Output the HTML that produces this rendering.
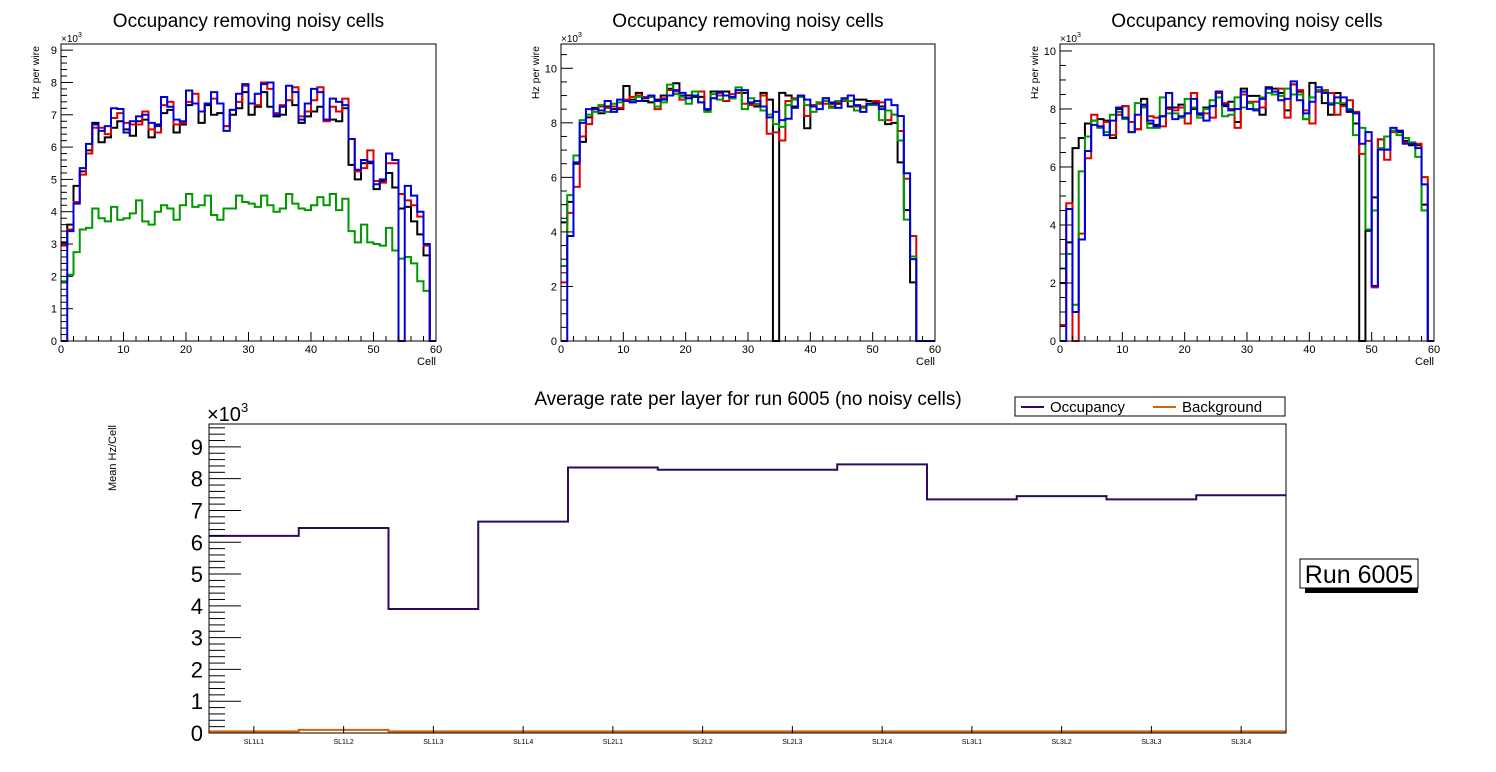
<!DOCTYPE html>
<html><head><meta charset="utf-8"><style>
html,body{margin:0;padding:0;background:#fff;}
svg{display:block;font-family:"Liberation Sans",sans-serif;}
</style></head><body>
<svg id="c" width="1496" height="772" viewBox="0 0 1496 772" xmlns="http://www.w3.org/2000/svg"></svg>
<script>
// ---- panel data (Hz per wire, x10^3) ----
const p1Black=[3.05,3.6,4.8,5.25,5.9,6.75,6.15,6.3,6.6,6.8,6.55,6.35,6.8,6.85,6.3,6.7,7.05,7.15,6.45,6.7,7.3,7.35,6.75,7.3,7.0,7.05,6.65,7.0,7.2,7.7,7.0,7.25,7.7,7.25,6.95,7.0,7.45,7.3,6.75,6.95,7.1,7.25,6.85,6.85,6.8,7.2,5.45,5.0,5.5,5.5,4.7,4.95,5.2,4.75,4.1,4.15,3.7,3.3,2.65,0];
const p1Red=[2.95,3.45,4.3,5.15,5.8,6.6,6.6,6.4,6.9,7.05,6.75,6.7,6.7,7.1,6.55,6.45,7.3,7.4,6.7,6.75,7.4,7.65,7.1,7.35,7.5,7.35,6.65,7.15,7.4,7.9,7.35,7.3,8.0,7.8,7.05,7.3,7.45,7.85,6.95,7.1,7.45,7.85,6.8,7.25,7.1,7.5,6.25,5.25,5.35,5.9,4.95,4.9,5.5,5.5,4.55,4.35,4.2,3.85,2.95,0];
const p1Green=[1.85,2.05,2.75,3.45,3.5,4.1,3.8,3.7,4.15,3.75,3.8,3.95,4.35,3.7,3.6,4.0,4.2,4.1,3.75,4.2,4.55,4.15,4.2,4.5,3.9,3.75,4.1,4.1,4.5,4.3,4.25,4.15,4.5,4.2,4.0,4.1,4.55,4.25,4.1,4.05,4.2,4.45,4.2,4.55,4.05,4.4,3.4,3.05,3.6,3.05,3.0,2.95,3.5,2.8,2.55,2.6,2.4,1.85,1.55,0];
const p1Blue=[0,3.4,4.25,5.35,6.1,6.7,6.5,6.65,7.2,7.18,6.45,6.8,6.95,7.0,6.75,6.65,7.55,7.25,6.85,6.8,7.75,7.35,7.1,7.35,7.7,7.35,6.5,7.15,7.65,7.95,7.35,7.65,7.95,8.0,7.0,7.25,7.9,7.7,6.85,7.35,7.8,7.7,6.85,7.5,7.4,7.3,6.25,5.3,5.6,5.55,4.85,5.0,5.8,5.6,0,4.8,4.5,4.0,3.0,0];
const p2Black=[4.35,5.1,6.5,7.3,8.2,8.55,8.35,8.6,8.5,8.5,9.35,8.85,9.1,8.8,8.75,8.85,9.0,9.25,9.45,9.0,9.0,8.95,8.95,8.45,9.15,9.15,9.15,8.9,9.1,9.1,8.7,8.6,9.1,8.85,0,9.1,9.0,8.6,9.0,7.8,8.65,8.75,8.9,8.7,8.7,8.85,8.6,8.85,8.85,8.8,8.75,8.6,7.95,8.0,6.55,4.8,2.15,0,0,0];
const p2Red=[2.15,4.7,5.65,7.5,7.95,8.5,8.6,8.55,8.6,8.55,8.85,8.95,9.0,8.95,8.95,8.5,8.9,9.2,9.15,8.85,8.9,9.15,9.15,8.5,8.9,9.0,8.8,9.05,9.1,8.7,8.65,8.65,9.0,7.6,7.65,7.35,8.8,8.9,8.95,8.25,8.65,8.7,8.7,8.6,8.75,8.8,8.8,8.6,8.6,8.7,8.8,8.75,8.1,8.3,7.7,5.95,3.85,0,0,0];
const p2Green=[2.75,5.35,6.8,8.1,8.3,8.4,8.65,8.4,8.7,8.75,8.8,8.8,8.95,8.9,8.95,8.6,8.75,9.4,9.05,8.95,8.7,9.15,8.75,8.4,9.05,8.85,9.0,8.9,9.3,8.5,8.9,8.7,8.45,8.3,7.95,7.85,8.65,8.85,8.95,8.65,8.4,8.75,8.8,8.55,8.8,8.85,8.8,8.45,8.55,8.65,8.65,8.1,8.45,8.3,7.35,4.45,3.1,0,0,0];
const p2Blue=[0,3.85,6.55,8.0,8.5,8.5,8.45,8.8,8.4,8.85,8.8,8.75,8.8,8.9,9.0,8.8,8.85,9.0,9.2,9.1,8.9,9.0,8.75,8.5,8.9,9.1,9.0,8.95,9.2,9.2,8.75,8.8,8.6,8.2,8.4,8.1,8.15,8.55,9.0,8.85,8.6,8.5,8.9,8.75,8.55,8.9,9.0,8.65,8.4,8.7,8.7,8.5,8.85,8.65,8.25,6.15,3.0,0,0,0];
const p3Black=[2.0,3.4,6.65,7.0,7.5,7.6,7.65,7.6,7.0,8.0,8.1,7.55,7.3,8.35,7.5,7.45,7.75,8.05,8.05,8.15,7.85,8.0,7.8,8.05,8.1,8.6,8.1,8.25,7.55,8.7,8.45,8.45,7.8,8.75,8.7,8.55,7.95,8.85,8.6,7.65,8.9,8.6,8.2,7.8,8.55,8.15,7.9,7.5,0,3.8,4.95,6.95,6.6,7.25,7.2,6.9,6.75,6.75,4.7,0];
const p3Red=[0.55,4.75,0,3.7,6.3,7.8,7.4,7.55,7.1,7.8,8.1,7.55,7.3,8.1,7.75,7.7,7.4,8.0,7.95,8.05,7.5,8.55,7.85,7.85,7.7,8.55,8.2,8.0,7.35,8.5,8.25,8.25,8.05,8.55,8.5,8.7,7.7,8.85,8.65,7.95,7.5,8.6,8.65,8.55,7.8,8.1,8.3,7.9,6.45,6.9,1.85,6.95,6.25,7.2,7.25,6.85,6.85,6.8,5.65,0];
const p3Green=[2.5,3.0,1.25,5.85,7.05,7.6,7.35,7.2,7.8,7.9,7.65,7.2,8.2,8.05,7.35,7.35,8.4,7.85,7.85,7.7,8.35,8.05,7.7,8.0,8.3,8.4,7.75,7.8,8.4,8.05,8.2,8.0,8.4,8.55,8.5,8.45,8.7,8.5,8.5,7.65,8.4,8.65,8.6,8.2,8.2,8.2,8.0,7.1,7.35,3.85,4.5,6.65,7.05,7.25,7.1,7.0,6.85,6.35,4.5,0];
const p3Blue=[0,4.55,1.0,3.5,6.55,7.45,7.4,7.1,7.6,8.05,7.7,7.2,7.8,8.15,7.6,7.4,7.75,8.55,7.65,7.75,7.85,8.35,7.85,7.6,8.1,8.6,8.15,7.95,8.0,8.6,8.0,7.95,8.35,8.7,8.6,8.3,8.35,8.95,8.3,7.85,8.25,8.75,8.55,8.15,8.4,8.4,7.95,7.85,6.8,7.2,1.9,6.6,6.6,7.35,7.25,6.8,6.8,6.65,5.4,0];
const xTicks=[0,10,20,30,40,50,60];
const p1YTicks=[0,1,2,3,4,5,6,7,8,9];
const p2YTicks=[0,2,4,6,8,10];
const p3YTicks=[0,2,4,6,8,10];
// ---- summary data ----
const layers=["SL1L1","SL1L2","SL1L3","SL1L4","SL2L1","SL2L2","SL2L3","SL2L4","SL3L1","SL3L2","SL3L3","SL3L4"];
const occupancy=[6.2,6.45,3.9,6.65,8.35,8.28,8.28,8.45,7.35,7.45,7.35,7.48];
const background=[0.05,0.1,0.05,0.05,0.05,0.05,0.05,0.05,0.05,0.05,0.05,0.05];
const sumYTicks=[0,1,2,3,4,5,6,7,8,9];

const NS="http://www.w3.org/2000/svg";
const svg=document.getElementById('c');
function mk(tag,attrs,parent){const e=document.createElementNS(NS,tag);for(const k in attrs)e.setAttribute(k,attrs[k]);(parent||svg).appendChild(e);return e;}
function txt(s,attrs,parent){const e=mk('text',attrs,parent);e.textContent=s;return e;}

const colors={black:'#000',red:'#d00',green:'#090',blue:'#00d'};
function panel(idx,x0,x1,yTop,y0,ymax,yTicks,minorStep,series){
  const g=mk('g',{});
  
  
  const sx=v=>x0+(x1-x0)*v/60;
  const sy=v=>y0-(y0-yTop)*v/ymax;
  const t=txt('Occupancy removing noisy cells',{x:(x0+x1)/2,y:27,'font-size':19,'text-anchor':'middle'},g);
  
  
  for(const [name,data] of series){
    let d='M'+sx(0)+','+sy(data[0]);
    for(let i=0;i<data.length;i++){
      d+=' L'+sx(i)+','+sy(data[i])+' L'+sx(i+1)+','+sy(data[i]);
      if(i+1<data.length)d+=' L'+sx(i+1)+','+sy(data[i+1]);
    }
    const p=mk('path',{d:d,fill:'none',stroke:colors[name],'stroke-width':2},g);
    
    
  }
  const fr=mk('rect',{x:x0,y:yTop,width:x1-x0,height:y0-yTop,fill:'none',stroke:'#000','stroke-width':1},g);
  
  
  for(let v=0;v<=ymax+1e-9;v+=minorStep){
    const major=yTicks.some(t=>Math.abs(t-v)<1e-6);
    mk('line',{x1:x0,x2:x0+(major?12:6),y1:sy(v),y2:sy(v),stroke:'#000','stroke-width':1},g);
  }
  for(const v of yTicks){
    const l=txt(String(v),{x:x0-4,y:sy(v)+4,'font-size':11,'text-anchor':'end'},g);
    
    
  }
  for(let v=0;v<=60;v+=2){
    const major=v%10===0;
    mk('line',{x1:sx(v),x2:sx(v),y1:y0,y2:y0-(major?9:5),stroke:'#000','stroke-width':1},g);
  }
  for(const v of xTicks){
    const l=txt(String(v),{x:sx(v),y:y0+12,'font-size':11,'text-anchor':'middle'},g);
    
    
  }
  const xl=txt('Cell',{x:x1,y:y0+24,'font-size':11,'text-anchor':'end'},g);
  
  
  const yl=txt('Hz per wire',{x:0,y:0,'font-size':10.5,'text-anchor':'end',transform:'translate('+(x0-22)+','+(yTop+2)+') rotate(-90)'},g);
  
  
  const ex=txt('×10',{x:x0,y:yTop-2,'font-size':10},g);
  const sup=mk('tspan',{dy:-5,'font-size':7},ex);sup.textContent='3';
  
  
}
panel(1,61,436,44,341,9.19,p1YTicks,0.2,[['green',p1Green],['black',p1Black],['red',p1Red],['blue',p1Blue]]);
panel(2,561,935,44,341,10.89,p2YTicks,0.5,[['black',p2Black],['red',p2Red],['green',p2Green],['blue',p2Blue]]);
panel(3,1060,1434,44,341,10.24,p3YTicks,0.5,[['black',p3Black],['red',p3Red],['green',p3Green],['blue',p3Blue]]);

(function(){
  const g=mk('g',{});
  
  
  const x0=209,x1=1286,yTop=424,y0=733,ymax=9.72;
  const n=layers.length;
  const sx=i=>x0+(x1-x0)*i/n;
  const sy=v=>y0-(y0-yTop)*v/ymax;
  const t=txt('Average rate per layer for run 6005 (no noisy cells)',{x:748,y:405,'font-size':19,'text-anchor':'middle'},g);
  
  
  function step(data,color,name){
    let d='M'+sx(0)+','+sy(data[0]);
    for(let i=0;i<n;i++){
      d+=' L'+sx(i)+','+sy(data[i])+' L'+sx(i+1)+','+sy(data[i]);
      if(i+1<n)d+=' L'+sx(i+1)+','+sy(data[i+1]);
    }
    const p=mk('path',{d:d,fill:'none',stroke:color,'stroke-width':2},g);
    
    
  }
  step(occupancy,'#2e0a5e','occupancy-line');
  step(background,'#d2640a','background-line');
  const fr=mk('rect',{x:x0,y:yTop,width:x1-x0,height:y0-yTop,fill:'none',stroke:'#000','stroke-width':1},g);
  
  
  for(let v=0;v<=ymax+1e-9;v+=0.2){
    const major=Math.abs(v-Math.round(v))<1e-6;
    mk('line',{x1:x0,x2:x0+(major?32:16),y1:sy(v),y2:sy(v),stroke:'#000','stroke-width':1},g);
  }
  for(const v of sumYTicks){
    const l=txt(String(v),{x:x0-6,y:sy(v)+8,'font-size':22,'text-anchor':'end'},g);
    
    
  }
  for(let i=0;i<n;i++){
    const cx=(sx(i)+sx(i+1))/2;
    mk('line',{x1:cx,x2:cx,y1:y0,y2:y0-7,stroke:'#000','stroke-width':1},g);
    const l=txt(layers[i],{x:cx,y:744,'font-size':7,'text-anchor':'middle'},g);
    
    
  }
  const ex=txt('×10',{x:x0-2,y:421,'font-size':20},g);
  const sup=mk('tspan',{dy:-9,'font-size':13},ex);sup.textContent='3';
  
  
  const yl=txt('Mean Hz/Cell',{x:0,y:0,'font-size':11,'text-anchor':'end',transform:'translate(116,425) rotate(-90)'},g);
  
  
  const lg=mk('g',{},g);
  
  
  mk('rect',{x:1015,y:397,width:270,height:19,fill:'#fff',stroke:'#000','stroke-width':1},lg);
  const e1=mk('g',{},lg);
  
  
  mk('line',{x1:1021,x2:1044,y1:407,y2:407,stroke:'#2e0a5e','stroke-width':2},e1);
  txt('Occupancy',{x:1050,y:412,'font-size':15},e1);
  const e2=mk('g',{},lg);
  
  
  mk('line',{x1:1153,x2:1176,y1:407,y2:407,stroke:'#d2640a','stroke-width':2},e2);
  txt('Background',{x:1182,y:412,'font-size':15},e2);
  const rb=mk('g',{},g);
  
  
  mk('rect',{x:1305,y:588,width:113,height:5,fill:'#000'},rb);
  mk('rect',{x:1300,y:559,width:118,height:29,fill:'#fff',stroke:'#000','stroke-width':1},rb);
  txt('Run 6005',{x:1359,y:583,'font-size':25,'text-anchor':'middle'},rb);
})();
</script>
</body></html>
